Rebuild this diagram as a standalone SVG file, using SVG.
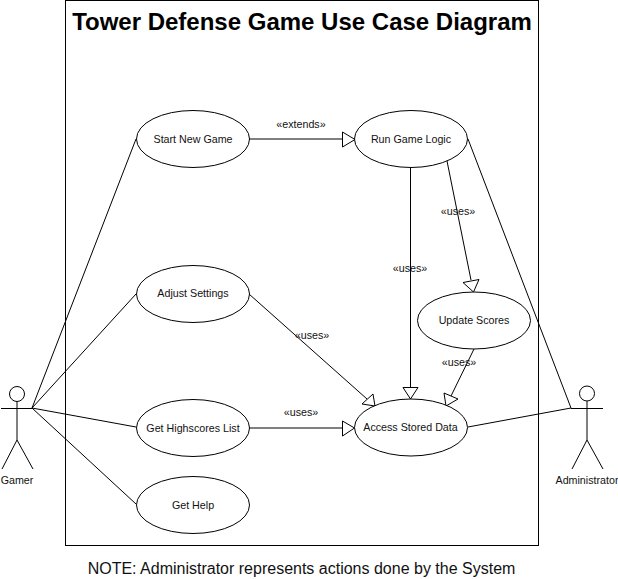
<svg xmlns="http://www.w3.org/2000/svg" width="618" height="579" viewBox="0 0 618 579">
<style>
text{font-family:"Liberation Sans",Arial,sans-serif;fill:#111;text-anchor:middle}
.l{font-size:10.7px}
.e,.h{fill:#fff;stroke:#000;stroke-width:1}
.c{stroke:#000;stroke-width:1;fill:none}
</style>
<rect width="618" height="579" fill="#fff"/>
<g id="boundary"><rect x="65.500" y="0.500" width="473" height="545" fill="none" stroke="#000" stroke-width="1"/>
<text x="302" y="30" style="font-size:24px;font-weight:bold;fill:#000">Tower Defense Game Use Case Diagram</text></g>
<g id="connectors">
<path class="c" d="M32 408L136 139M32 408L136 294M32 408L136 427M32 408L136 504M249 139H343M410.500 167V387M447 161L471 280M249 294L367 399M249 428H343M474 349L451 396M468 427L571 408M468 139L571 408"/>
<path class="h" d="M342.500 132V147L355 139.500ZM403 387.500H418L410.500 399ZM463 282.500L479 279.500L473.500 292ZM362 404L373 394L375 406ZM342.500 421V436L354.500 428ZM444 393L458 399L446 406Z"/>
<text class="l" x="301" y="128">«extends»</text>
<text class="l" x="410" y="272">«uses»</text>
<text class="l" x="458" y="215">«uses»</text>
<text class="l" x="312" y="339">«uses»</text>
<text class="l" x="301" y="416">«uses»</text>
<text class="l" x="459" y="366">«uses»</text>
</g>
<g id="start"><ellipse class="e" cx="193" cy="139" rx="56.500" ry="28.500"/><text class="l" x="193" y="142.500">Start New Game</text></g>
<g id="run"><ellipse class="e" cx="411" cy="139" rx="56.500" ry="28.500"/><text class="l" x="411" y="142.500">Run Game Logic</text></g>
<g id="settings"><ellipse class="e" cx="193" cy="294" rx="56.500" ry="28.500"/><text class="l" x="193" y="297">Adjust Settings</text></g>
<g id="update"><ellipse class="e" cx="474" cy="320.500" rx="56.500" ry="28.500"/><text class="l" x="474" y="323.500">Update Scores</text></g>
<g id="highscores"><ellipse class="e" cx="193" cy="428" rx="56.500" ry="28.500"/><text class="l" x="193" y="431.500">Get Highscores List</text></g>
<g id="access"><ellipse class="e" cx="411" cy="427.500" rx="56.500" ry="28.500"/><text class="l" x="410.500" y="431">Access Stored Data</text></g>
<g id="help"><ellipse class="e" cx="193" cy="505" rx="56.500" ry="28.500"/><text class="l" x="193" y="508.500">Get Help</text></g>
<g id="gamer"><circle class="e" cx="17" cy="394" r="7.500"/><path class="c" d="M1 408.500H33M17 401.500V440M17 440L2 469M17 440L33 469"/><text class="l" x="17" y="484">Gamer</text></g>
<g id="admin"><circle class="e" cx="587" cy="393.500" r="7.500"/><path class="c" d="M571 408.500H603M587 401V440M587 440L572 469M587 440L603 469"/><text class="l" x="587" y="484">Administrator</text></g>
<text x="301.500" y="574" style="font-size:16px">NOTE: Administrator represents actions done by the System</text>
</svg>
